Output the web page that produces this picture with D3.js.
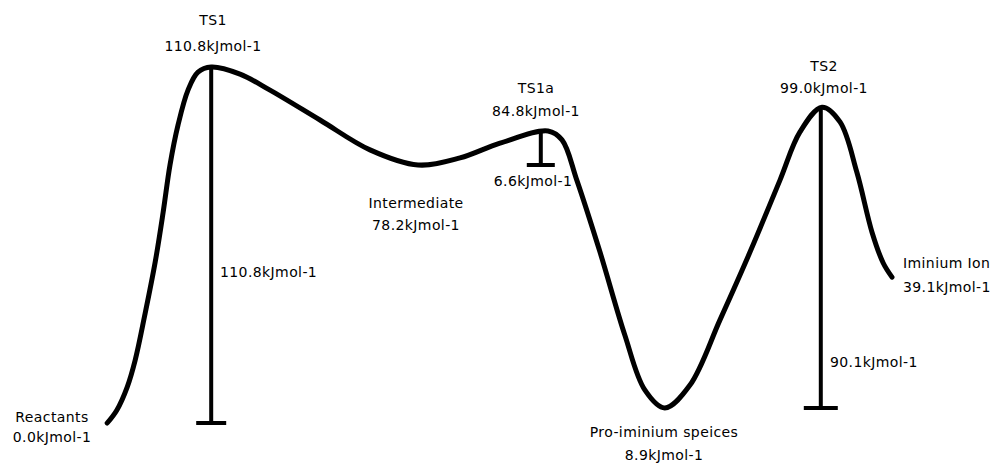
<!DOCTYPE html>
<html>
<head>
<meta charset="utf-8">
<script src="https://cdn.jsdelivr.net/npm/d3@7"></script>
<style>
  html, body { margin: 0; padding: 0; background: #fff; }
  svg { display: block; }
  text { font-family: "DejaVu Sans", Verdana, sans-serif; font-size: 14px; letter-spacing: 0.4px; fill: #000; }
</style>
</head>
<body>
<svg id="chart" width="994" height="463"></svg>
<script>
// ---- Data ----
// Drawn energy profile (reaction coordinate, drawn energy in kJ/mol)
const curveCoord = [0.9, 2.1, 3.4, 4.4, 5.6, 6.9, 7.9, 8.75, 9.75, 11.0, 12.25, 13.9, 17.5, 21.25, 27.5, 33.75, 39.75, 45, 50, 56, 57.75, 59.6, 62.5, 65.6, 68.1, 70.6, 73.75, 77.5, 81.25, 85, 87.5, 90.25, 92.5, 94.6, 96.5, 97.9, 99];
const curveEnergy = [0, 4.0, 11.2, 19.6, 33.6, 50.1, 65.7, 80.3, 92.7, 103.6, 109.2, 110.8, 108.6, 103.6, 94.3, 85.0, 80.3, 82.5, 87.1, 90.9, 88.1, 75.6, 53.2, 27.4, 10.3, 4.7, 11.8, 32.1, 53.2, 75.6, 90.6, 98.3, 93.7, 78.1, 59.4, 49.8, 45.4];

// Stationary points
const stateNames = ["Reactants", "TS1", "Intermediate", "TS1a", "Pro-iminium speices", "TS2", "Iminium Ion"];
const stateEnergies = [0.0, 110.8, 78.2, 84.8, 8.9, 99.0, 39.1];

// Barrier bars: coordinate, drawn top and bottom energies, labelled barrier value
const barrierCoord = [13.9, 55.1, 90.1];
const barrierTop = [110.8, 90.9, 98.3];
const barrierBottom = [0.0, 80.3, 4.7];
const barrierValues = [110.8, 6.6, 90.1];

const unit = "kJmol-1";

// ---- Scales ----
const svg = d3.select("#chart");
const x = d3.scaleLinear().domain([0, 100]).range([100, 900]);
const y = d3.scaleLinear().domain([0, 110.8]).range([423, 67]);

// ---- Curve ----
const pts = curveCoord.map((c, i) => [c, curveEnergy[i]]);
const line = d3.line()
  .x(d => x(d[0]))
  .y(d => y(d[1]))
  .curve(d3.curveCatmullRom.alpha(0.5));

svg.append("path")
  .attr("d", line(pts))
  .attr("fill", "none")
  .attr("stroke", "#000")
  .attr("stroke-width", 5)
  .attr("stroke-linecap", "round")
  .attr("stroke-linejoin", "round");

// ---- Barrier bars ----
const capHalf = [15, 14, 17];
const bars = svg.append("g");
barrierCoord.forEach((c, i) => {
  bars.append("line")
    .attr("x1", x(c)).attr("x2", x(c))
    .attr("y1", y(barrierTop[i])).attr("y2", y(barrierBottom[i]))
    .attr("stroke", "#000").attr("stroke-width", 4);
  bars.append("line")
    .attr("x1", x(c) - capHalf[i]).attr("x2", x(c) + capHalf[i])
    .attr("y1", y(barrierBottom[i])).attr("y2", y(barrierBottom[i]))
    .attr("stroke", "#000").attr("stroke-width", 4);
});

// ---- State labels ----
const fmt = v => v.toFixed(1) + unit;
// layout: [x, anchor, name baseline, value baseline]
const stateLayout = [
  [52, "middle", 422, 442],
  [213, "middle", 25, 51],
  [416, "middle", 208, 230],
  [536, "middle", 93, 116],
  [664, "middle", 437, 460],
  [824, "middle", 71, 93],
  [903, "start", 268, 292]
];
const labels = svg.append("g");
stateNames.forEach((n, i) => {
  const [lx, anc, b1, b2] = stateLayout[i];
  labels.append("text").attr("x", lx).attr("y", b1).attr("text-anchor", anc).text(n);
  labels.append("text").attr("x", lx).attr("y", b2).attr("text-anchor", anc).text(fmt(stateEnergies[i]));
});

// ---- Barrier labels ----
const barLayout = [
  [220, "start", 277],
  [533, "middle", 186],
  [830, "start", 367]
];
barrierValues.forEach((v, i) => {
  const [lx, anc, b] = barLayout[i];
  labels.append("text").attr("x", lx).attr("y", b).attr("text-anchor", anc).text(fmt(v));
});
</script>
</body>
</html>
